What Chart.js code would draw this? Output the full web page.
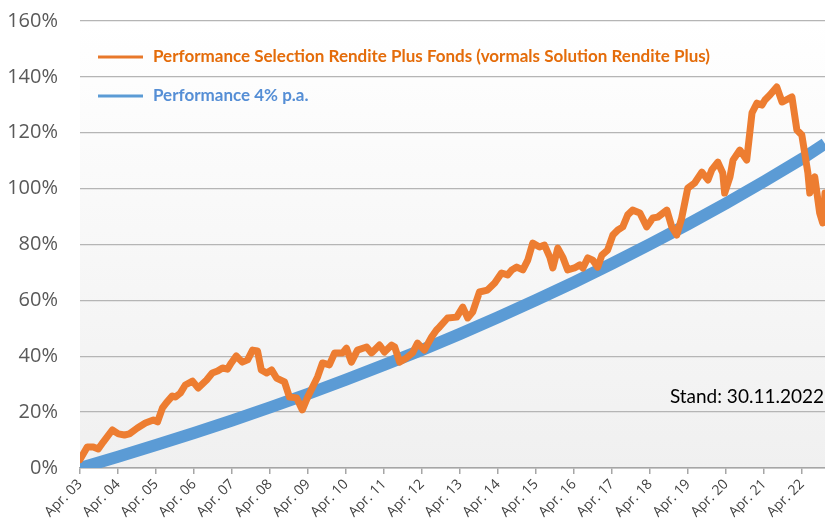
<!DOCTYPE html>
<html>
<head>
<meta charset="utf-8">
<script src="https://cdn.jsdelivr.net/npm/chart.js@4.4.0/dist/chart.umd.min.js"></script>
<style>
  html, body { margin: 0; padding: 0; background: #fff; }
  #wrap { width: 825px; height: 524px; }
</style>
</head>
<body>
<div id="wrap"><canvas id="chart" width="825" height="524"></canvas></div>
<script>
// x values are years since April 2003
const tickLabels = ['Apr. 03', 'Apr. 04', 'Apr. 05', 'Apr. 06', 'Apr. 07', 'Apr. 08', 'Apr. 09',
  'Apr. 10', 'Apr. 11', 'Apr. 12', 'Apr. 13', 'Apr. 14', 'Apr. 15', 'Apr. 16', 'Apr. 17',
  'Apr. 18', 'Apr. 19', 'Apr. 20', 'Apr. 21', 'Apr. 22'];

const fundYears = [0, 0.19, 0.35, 0.48, 0.61, 0.85, 1.01, 1.17, 1.30, 1.51, 1.72, 1.93, 2.04, 2.17,
  2.27, 2.43, 2.51, 2.64, 2.77, 2.96, 3.11, 3.33, 3.48, 3.62, 3.75, 3.88, 3.98, 4.11, 4.27, 4.41,
  4.54, 4.67, 4.77, 4.91, 5.04, 5.17, 5.38, 5.51, 5.70, 5.85, 5.98, 6.12, 6.25, 6.38, 6.56, 6.70,
  6.91, 7.01, 7.14, 7.30, 7.54, 7.67, 7.88, 8.01, 8.20, 8.28, 8.41, 8.59, 8.75, 8.88, 9.06, 9.25,
  9.38, 9.46, 9.67, 9.91, 10.07, 10.20, 10.33, 10.51, 10.72, 10.91, 11.09, 11.25, 11.36, 11.49,
  11.65, 11.78, 11.91, 12.09, 12.22, 12.36, 12.44, 12.57, 12.70, 12.83, 13.01, 13.15, 13.23, 13.36,
  13.49, 13.62, 13.73, 13.88, 14.02, 14.15, 14.28, 14.41, 14.54, 14.73, 14.91, 15.07, 15.20, 15.44,
  15.57, 15.70, 15.83, 15.99, 16.17, 16.36, 16.52, 16.62, 16.78, 16.91, 16.96, 17.10, 17.18, 17.36,
  17.54, 17.68, 17.81, 17.94, 18.02, 18.15, 18.33, 18.47, 18.73, 18.86, 18.99, 19.15, 19.20, 19.33,
  19.46, 19.54, 19.60];
const fundValues = [3, 7.5, 7.5, 6.8, 9.3, 13.6, 12.2, 11.8, 12.2, 14.3, 16.1, 17.2, 16.5, 21.5,
  23.3, 25.8, 25.4, 26.8, 29.7, 31.1, 28.6, 31.5, 34.0, 34.7, 35.8, 35.4, 37.6, 40.1, 37.9, 38.7,
  42.2, 41.9, 35.1, 34.0, 35.1, 32.2, 30.8, 25.4, 25.1, 20.8, 25.1, 29.0, 32.6, 37.6, 36.9, 41.2,
  41.2, 42.9, 37.9, 42.2, 43.3, 41.2, 44.0, 41.5, 44.0, 43.3, 37.9, 39.4, 41.2, 44.7, 42.2, 46.9,
  49.4, 50.5, 53.7, 54.0, 57.6, 53.7, 55.8, 63.0, 63.7, 66.2, 69.8, 69.1, 70.9, 71.9,
  70.9, 74.4, 80.5, 79.1, 79.8, 75.5, 71.6, 78.7, 75.5, 70.9, 71.6, 72.7, 71.6, 75.2,
  74.4, 71.9, 76.2, 78.0, 83.4, 85.2, 86.3, 90.6, 92.3, 91.3, 86.3, 89.5, 89.8, 92.3,
  86.3, 83.4, 89.5, 100.2, 102.0, 105.9, 103.1, 106.7, 109.5, 105.6, 98.4, 104.2, 110.2, 113.8,
  110.2, 127.1, 130.6, 129.9, 131.7, 133.5, 136.4, 131.0, 132.8, 121.0, 119.2, 105.6, 98.4, 104.2,
  91.3, 87.7, 98.4];

const targetYears = [0, 1, 2, 3, 4, 5, 6, 7, 8, 9, 10, 11, 12, 13, 14, 15, 16, 17, 18, 19, 19.6];
const targetValues = [0, 4, 8.2, 12.5, 17, 21.7, 26.5, 31.6, 36.9, 42.3, 48, 54, 60.1, 66.5, 73.2,
  80.1, 87.3, 94.8, 102.6, 110.7, 116.1];

const seriesNames = ['Performance Selection Rendite Plus Fonds (vormals Solution Rendite Plus)',
  'Performance 4% p.a.'];
const standText = 'Stand: 30.11.2022';

const toPoints = (xs, ys) => xs.map((x, i) => ({ x: x, y: ys[i] }));

// plot background gradient + legend + date note
const decorations = {
  id: 'decorations',
  beforeDraw(chart) {
    const { ctx, chartArea: a } = chart;
    const left = Math.round(a.left);
    const g = ctx.createLinearGradient(0, a.top, 0, a.bottom);
    g.addColorStop(0, '#ffffff');
    g.addColorStop(1, '#f0f0f0');
    ctx.save();
    ctx.fillStyle = g;
    ctx.fillRect(left, a.top, a.right - left, a.bottom - a.top);
    ctx.restore();
  },
  afterDraw(chart) {
    const { ctx } = chart;
    const legendColors = ['#E46C0A', '#558ED5'];
    const lineColors = ['#E8782A', '#5B9BD5'];
    const rows = [57, 96];
    ctx.save();
    seriesNames.forEach((name, i) => {
      ctx.strokeStyle = lineColors[i];
      ctx.lineWidth = 3;
      ctx.beginPath();
      ctx.moveTo(98, rows[i]);
      ctx.lineTo(143, rows[i]);
      ctx.stroke();
      ctx.fillStyle = legendColors[i];
      ctx.font = 'bold 17px Lato';
      ctx.textBaseline = 'middle';
      ctx.textAlign = 'left';
      ctx.fillText(name, 153, rows[i]);
    });
    ctx.fillStyle = '#000';
    ctx.font = '19px Lato';
    ctx.textAlign = 'right';
    ctx.textBaseline = 'middle';
    ctx.fillText(standText, 824, 397);
    ctx.restore();
  }
};

new Chart(document.getElementById('chart'), {
  type: 'line',
  data: {
    datasets: [
      {
        label: seriesNames[0],
        data: toPoints(fundYears, fundValues),
        borderColor: '#ED7D31',
        borderWidth: 7,
        pointRadius: 0,
        tension: 0,
        borderJoinStyle: 'round',
        borderCapStyle: 'round',
      },
      {
        label: seriesNames[1],
        data: toPoints(targetYears, targetValues),
        borderColor: '#5B9BD5',
        borderWidth: 12,
        pointRadius: 0,
        tension: 0,
      },
    ],
  },
  options: {
    responsive: false,
    devicePixelRatio: 1,
    animation: false,
    layout: { padding: 0 },
    plugins: {
      legend: { display: false },
      tooltip: { enabled: false },
    },
    scales: {
      x: {
        type: 'linear',
        min: 0,
        max: 19.6,
        afterBuildTicks: scale => {
          scale.ticks = tickLabels.map((t, i) => ({ value: i }));
        },
        afterFit: scale => { scale.height = 56; },
        ticks: {
          minRotation: 45,
          maxRotation: 45,
          padding: 2,
          color: '#404040',
          font: { family: "'Open Sans', sans-serif", size: 14 },
          callback: (v, i) => tickLabels[i],
        },
        grid: {
          drawOnChartArea: false,
          drawTicks: true,
          tickLength: 6,
          color: '#a6a6a6',
          lineWidth: 1.5,
        },
        border: { display: true, color: '#a6a6a6', width: 1.5 },
      },
      y: {
        min: 0,
        max: 160,
        afterFit: scale => {
          scale.width = 80;
          scale.paddingTop = 21;
        },
        ticks: {
          stepSize: 20,
          padding: 22,
          color: '#595959',
          font: { family: "'Open Sans', sans-serif", size: 20 },
          callback: v => v + '%',
        },
        grid: {
          drawTicks: false,
          color: '#b5b5b5',
          lineWidth: 1.3,
        },
        border: { display: false },
      },
    },
  },
  plugins: [decorations],
});
</script>
</body>
</html>
